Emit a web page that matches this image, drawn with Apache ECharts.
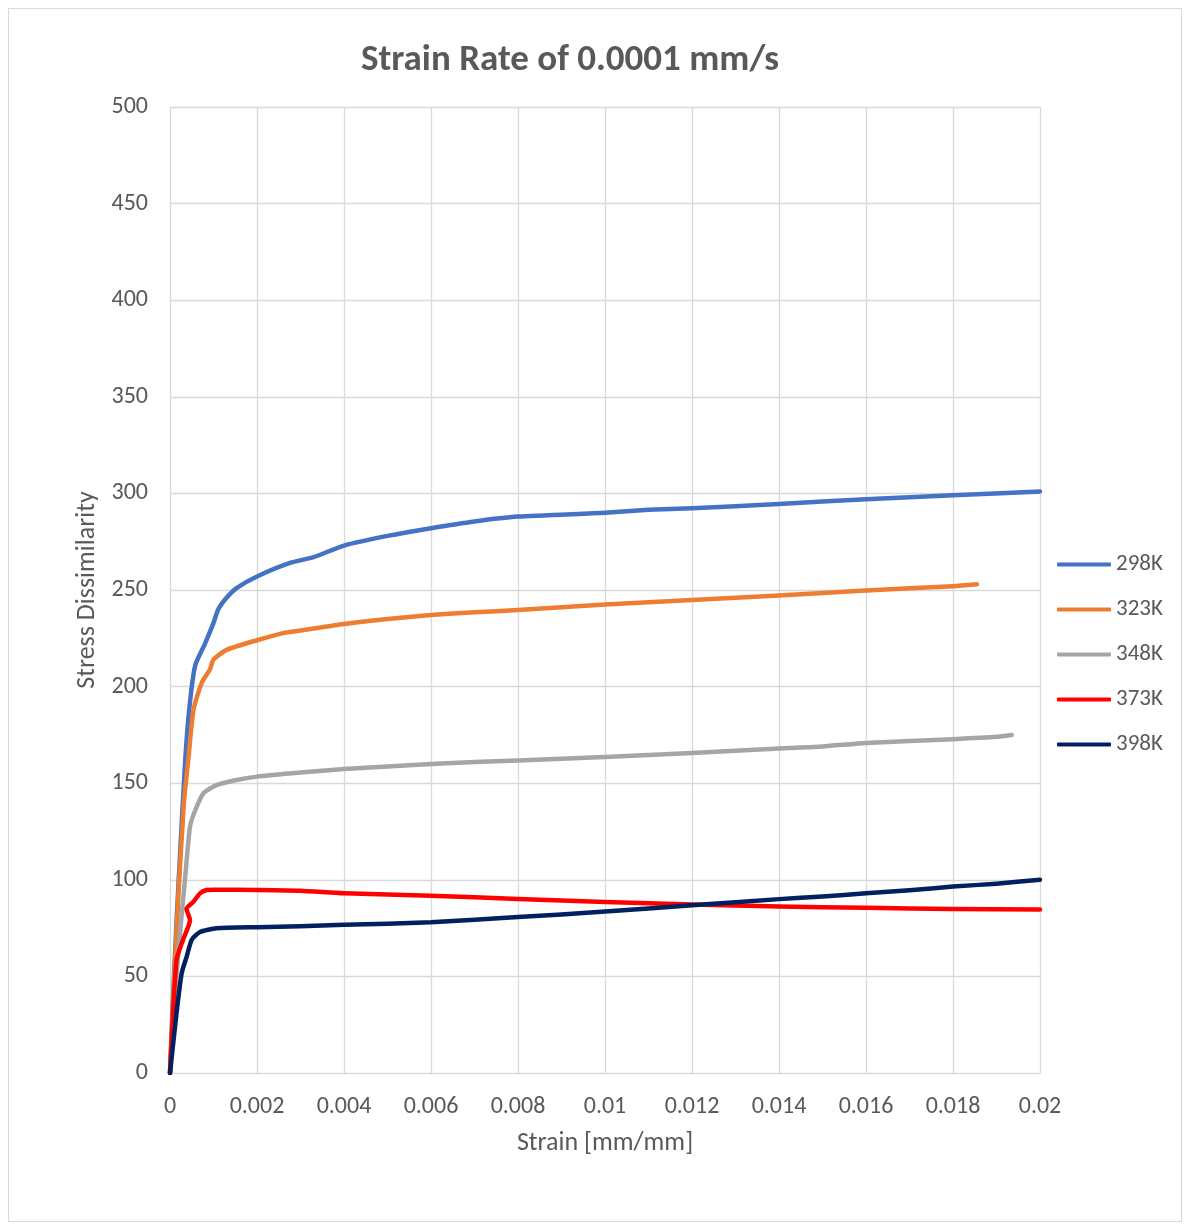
<!DOCTYPE html>
<html>
<head>
<meta charset="utf-8">
<script src="https://cdn.jsdelivr.net/npm/echarts@6/dist/echarts.min.js"></script>
<style>
html,body{margin:0;padding:0;background:#fff;}
#frame{position:absolute;left:8px;top:8px;width:1174px;height:1214px;border:1px solid #d9d9d9;box-sizing:border-box;}
#chart{position:absolute;left:0;top:0;width:1190px;height:1226px;}
</style>
</head>
<body>
<div id="frame"></div>
<div id="chart"></div>
<script>
const title = "Strain Rate of 0.0001 mm/s";
const seriesNames = ["298K", "323K", "348K", "373K", "398K"];
const colors = ["#4472C4", "#ED7D31", "#A5A5A5", "#FF0000", "#002060"];

const strain298 = [0, 0.0001, 0.0002, 0.00035, 0.00045, 0.00058, 0.0008, 0.001, 0.00111, 0.0013, 0.00153, 0.002, 0.00276, 0.0033, 0.004, 0.005, 0.006, 0.007, 0.008, 0.01, 0.011, 0.012, 0.014, 0.016, 0.018, 0.02];
const stress298 = [0, 55, 100, 162, 190, 211, 222, 233, 240, 246, 251, 257, 264, 267, 273, 278, 282, 285.5, 288, 290, 291.5, 292.3, 294.5, 297, 299, 301];

const strain323 = [0, 0.0001, 0.0002, 0.00032, 0.00042, 0.00054, 0.00073, 0.00092, 0.001, 0.0013, 0.002, 0.0026, 0.003, 0.004, 0.005, 0.006, 0.007, 0.008, 0.01, 0.012, 0.014, 0.016, 0.018, 0.01855];
const stress323 = [0, 50, 95, 140, 162, 188, 202, 209, 214, 219, 224, 227.7, 229, 232.4, 235, 237, 238.5, 239.6, 242.5, 244.8, 247.2, 249.8, 252, 253];

const strain348 = [0, 0.0001, 0.0002, 0.00035, 0.00046, 0.00058, 0.00077, 0.00107, 0.0015, 0.002, 0.003, 0.004, 0.006, 0.008, 0.01, 0.012, 0.014, 0.015, 0.016, 0.018, 0.019, 0.01935];
const stress348 = [0, 35, 65, 101.6, 127.5, 136, 144.8, 149, 151.5, 153.4, 155.5, 157.3, 160, 161.8, 163.6, 165.6, 168, 169, 170.8, 172.8, 174, 175];

const strain373 = [0, 0.00015, 0.0003, 0.00046, 0.00038, 0.00054, 0.00069, 0.00084, 0.001, 0.002, 0.003, 0.004, 0.006, 0.008, 0.01, 0.012, 0.014, 0.016, 0.018, 0.02];
const stress373 = [0, 58.5, 69, 79, 85, 88.7, 93, 94.7, 94.9, 94.7, 94.3, 93, 91.8, 90, 88.5, 87.2, 86.2, 85.5, 84.9, 84.6];

const strain398 = [0, 0.00015, 0.00027, 0.00038, 0.0005, 0.00069, 0.00107, 0.002, 0.003, 0.004, 0.006, 0.008, 0.009, 0.01, 0.012, 0.014, 0.015, 0.016, 0.017, 0.018, 0.019, 0.02];
const stress398 = [0, 31, 51.8, 60, 69, 73, 74.9, 75.5, 76, 76.7, 78, 80.7, 82, 83.6, 86.8, 90, 91.3, 93, 94.6, 96.5, 98, 100];

const xTicks = [0, 0.002, 0.004, 0.006, 0.008, 0.01, 0.012, 0.014, 0.016, 0.018, 0.02];
const yTicks = [0, 50, 100, 150, 200, 250, 300, 350, 400, 450, 500];

const strains = [strain298, strain323, strain348, strain373, strain398];
const stresses = [stress298, stress323, stress348, stress373, stress398];

function pairs(xs, ys) { return xs.map((x, i) => [x, ys[i]]); }

const chart = echarts.init(document.getElementById('chart'));
const font = "Calibri, Carlito, 'Open Sans', 'Noto Sans', sans-serif";
chart.setOption({
  animation: false,
  backgroundColor: 'transparent',
  title: {
    text: title, left: 565, top: 37, textAlign: 'center',
    textStyle: { fontFamily: font, fontSize: 37, fontWeight: 'bold', color: '#595959' }
  },
  grid: { left: 170, right: 150, top: 107, bottom: 153 },
  legend: {
    orient: 'vertical', left: 1057, top: 553, padding: 0, itemGap: 22, itemWidth: 54, itemHeight: 4,
    icon: 'roundRect',
    textStyle: { fontFamily: font, fontSize: 23, color: '#595959' },
    data: seriesNames
  },
  xAxis: {
    type: 'value', min: 0, max: 0.02, interval: 0.002,
    name: 'Strain [mm/mm]', nameLocation: 'middle', nameGap: 57,
    nameTextStyle: { fontFamily: font, fontSize: 26, color: '#595959' },
    axisLine: { show: true, lineStyle: { color: '#d9d9d9' } },
    axisTick: { show: false },
    axisLabel: { fontFamily: font, fontSize: 24, color: '#595959', margin: 22,
      formatter: v => String(parseFloat(v.toFixed(4))) },
    splitLine: { show: true, lineStyle: { color: '#d9d9d9', width: 1.3 } }
  },
  yAxis: {
    type: 'value', min: 0, max: 500, interval: 50,
    name: 'Stress Dissimilarity', nameLocation: 'middle', nameGap: 67,
    nameTextStyle: { fontFamily: font, fontSize: 26, color: '#595959' },
    axisLine: { show: true, lineStyle: { color: '#d9d9d9' } },
    axisTick: { show: false },
    axisLabel: { fontFamily: font, fontSize: 24, color: '#595959', margin: 22 },
    splitLine: { show: true, lineStyle: { color: '#d9d9d9', width: 1.3 } }
  },
  series: seriesNames.map((n, i) => ({
    name: n, type: 'line', data: pairs(strains[i], stresses[i]),
    showSymbol: false, symbol: 'none', smooth: 0.2,
    lineStyle: { color: colors[i], width: 4.5, cap: 'round', join: 'round' },
    itemStyle: { color: colors[i] }
  }))
});
</script>
</body>
</html>
